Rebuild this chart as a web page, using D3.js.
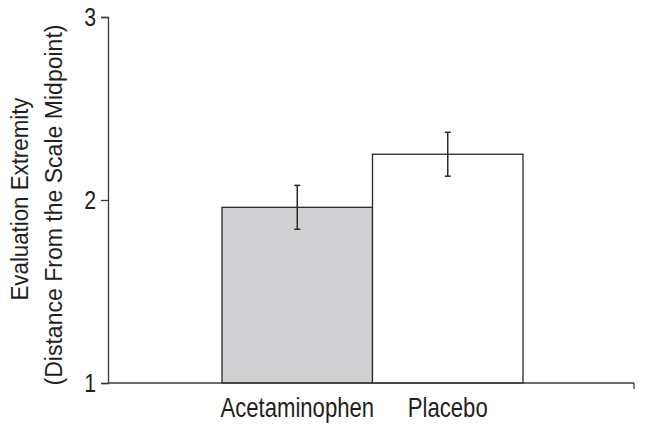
<!DOCTYPE html>
<html>
<head>
<meta charset="utf-8">
<script src="https://cdn.jsdelivr.net/npm/d3@7"></script>
<style>
  body { margin: 0; background: #fff; }
  text { font-family: "Liberation Sans", Arial, sans-serif; fill: #231f20; }
</style>
</head>
<body>
<script>
var categories = ['Acetaminophen', 'Placebo'];
var means = [1.96, 2.25];
var errors = [0.12, 0.12];
var fills = ['#d0d0d2', '#ffffff'];
var yTicks = [1, 2, 3];
var titleLines = ['Evaluation Extremity', '(Distance From the Scale Midpoint)'];

var width = 645, height = 429;

var svg = d3.select('body').append('svg')
  .attr('width', width).attr('height', height);

// y scale: 1 sits on the x axis
var y = d3.scaleLinear().domain([1, 3]).range([383, 17]);
var x = d3.scaleBand().domain(categories).range([222, 523]).padding(0);

var axisColor = '#3a3a3a';

// y axis (labels drawn by hand below, condensed)
var yAxis = d3.axisLeft(y).tickValues(yTicks).tickSize(7).tickFormat('');
var gy = svg.append('g').attr('transform', 'translate(108,0)').call(yAxis);
gy.select('.domain').attr('stroke', axisColor).attr('stroke-width', 1.3);
gy.selectAll('.tick line').attr('stroke', axisColor).attr('stroke-width', 1.3);

svg.selectAll('text.ytick')
  .data(yTicks)
  .enter()
  .append('text')
  .attr('class', 'ytick')
  .attr('transform', function (d) { return 'translate(96,' + (y(d) + 9) + ') scale(0.85,1)'; })
  .attr('text-anchor', 'end')
  .style('font-size', '25px')
  .text(function (d) { return d; });

// bars
svg.selectAll('rect.bar')
  .data(means)
  .enter()
  .append('rect')
  .attr('class', 'bar')
  .attr('x', function (d, i) { return x(categories[i]); })
  .attr('width', x.bandwidth())
  .attr('y', function (d) { return y(d); })
  .attr('height', function (d) { return y(1) - y(d); })
  .attr('fill', function (d, i) { return fills[i]; })
  .attr('stroke', '#2a2a2a')
  .attr('stroke-width', 1.3);

// error bars
var eb = svg.selectAll('g.err')
  .data(means)
  .enter()
  .append('g')
  .attr('class', 'err')
  .attr('stroke', '#2a2a2a')
  .attr('stroke-width', 1.5);

eb.append('line')
  .attr('x1', function (d, i) { return x(categories[i]) + x.bandwidth() / 2; })
  .attr('x2', function (d, i) { return x(categories[i]) + x.bandwidth() / 2; })
  .attr('y1', function (d, i) { return y(d + errors[i]); })
  .attr('y2', function (d, i) { return y(d - errors[i]); });

[1, -1].forEach(function (s) {
  eb.append('line')
    .attr('x1', function (d, i) { return x(categories[i]) + x.bandwidth() / 2 - 3; })
    .attr('x2', function (d, i) { return x(categories[i]) + x.bandwidth() / 2 + 3; })
    .attr('y1', function (d, i) { return y(d + s * errors[i]); })
    .attr('y2', function (d, i) { return y(d + s * errors[i]); });
});

// x axis line with end tick
svg.append('line')
  .attr('x1', 108).attr('x2', 634)
  .attr('y1', y(1)).attr('y2', y(1))
  .attr('stroke', axisColor).attr('stroke-width', 1.3);
svg.append('line')
  .attr('x1', 634).attr('x2', 634)
  .attr('y1', y(1)).attr('y2', y(1) + 6)
  .attr('stroke', axisColor).attr('stroke-width', 1.3);

// category labels
svg.selectAll('text.cat')
  .data(categories)
  .enter()
  .append('text')
  .attr('class', 'cat')
  .attr('transform', function (d) { return 'translate(' + (x(d) + x.bandwidth() / 2) + ',417) scale(0.82,1)'; })
  .attr('text-anchor', 'middle')
  .style('font-size', '27px')
  .text(function (d) { return d; });

// y axis title, two lines, condensed to the reference widths
var titleWidths = [203, 361];
var titleCenters = [199, 205];
svg.selectAll('text.ytitle')
  .data(titleLines)
  .enter()
  .append('text')
  .attr('class', 'ytitle')
  .attr('transform', function (d, i) { return 'translate(' + (28 + i * 34) + ',' + titleCenters[i] + ') rotate(-90)'; })
  .attr('x', function (d, i) { return -titleWidths[i] / 2; })
  .attr('textLength', function (d, i) { return titleWidths[i]; })
  .attr('lengthAdjust', 'spacingAndGlyphs')
  .style('font-size', '23px')
  .text(function (d) { return d; });
</script>
</body>
</html>
